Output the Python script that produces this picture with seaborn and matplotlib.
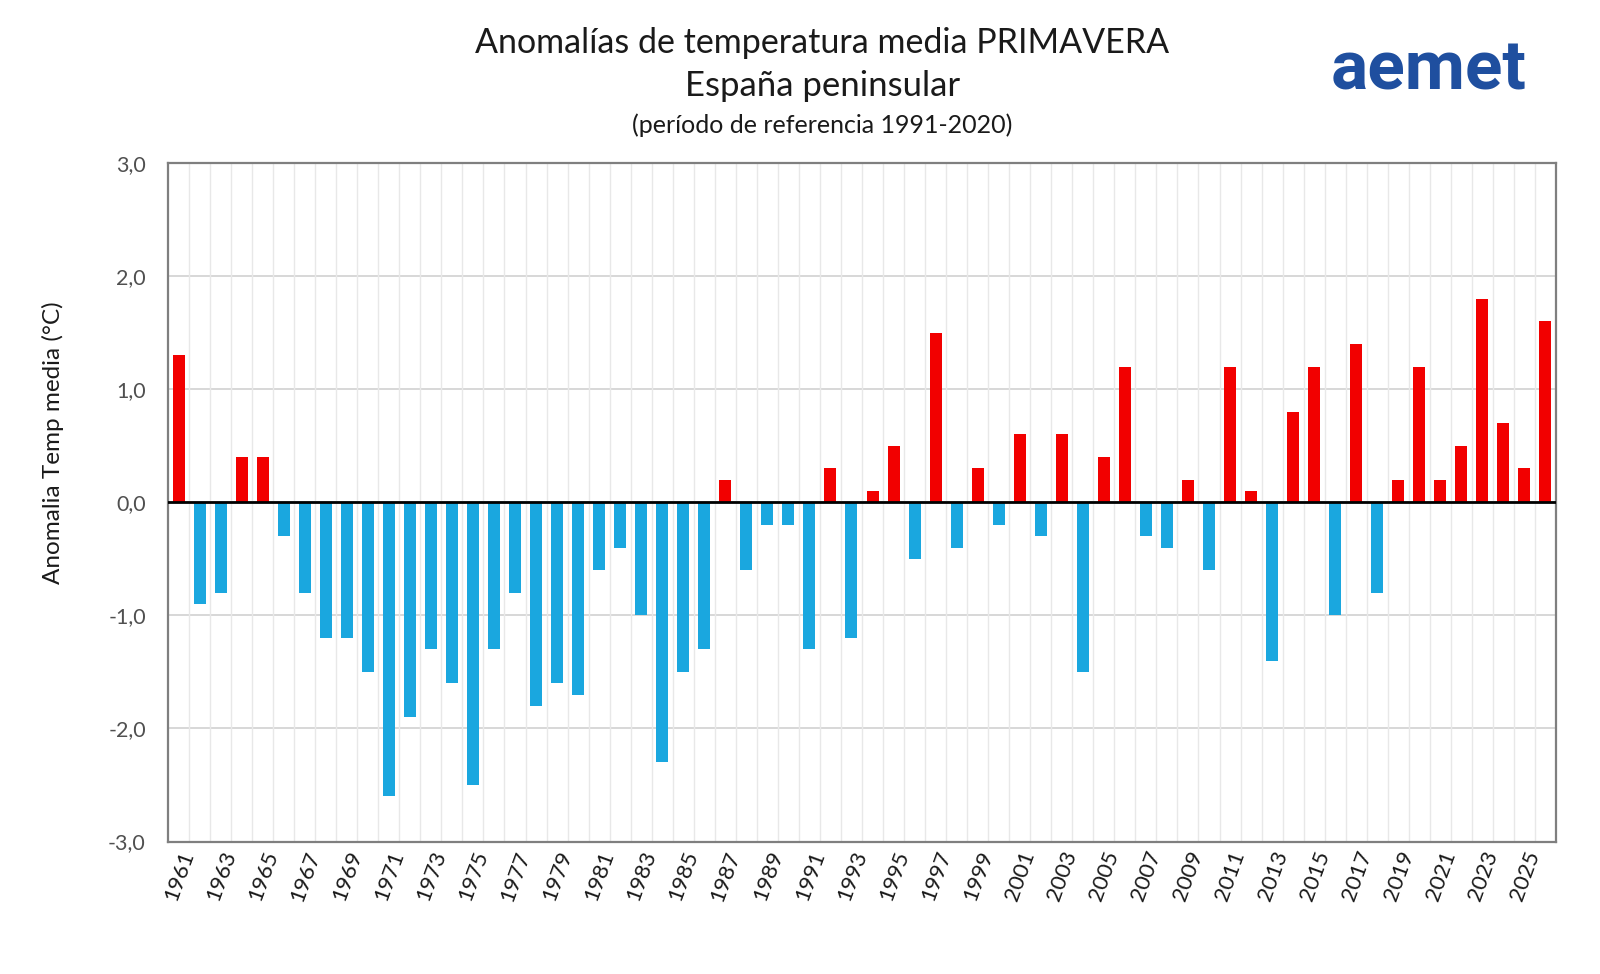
import matplotlib
matplotlib.use("Agg")
import matplotlib.pyplot as plt
import numpy as np
import pandas as pd
import seaborn as sns

# Anomalías de temperatura media de primavera, España peninsular
years = list(range(1961, 2027))
anomalies = [
    1.3, -0.9, -0.8, 0.4, 0.4, -0.3, -0.8, -1.2, -1.2, -1.5,   # 1961-1970
    -2.6, -1.9, -1.3, -1.6, -2.5, -1.3, -0.8, -1.8, -1.6, -1.7,  # 1971-1980
    -0.6, -0.4, -1.0, -2.3, -1.5, -1.3, 0.2, -0.6, -0.2, -0.2,   # 1981-1990
    -1.3, 0.3, -1.2, 0.1, 0.5, -0.5, 1.5, -0.4, 0.3, -0.2,       # 1991-2000
    0.6, -0.3, 0.6, -1.5, 0.4, 1.2, -0.3, -0.4, 0.2, -0.6,       # 2001-2010
    1.2, 0.1, -1.4, 0.8, 1.2, -1.0, 1.4, -0.8, 0.2, 1.2,         # 2011-2020
    0.2, 0.5, 1.8, 0.7, 0.3, 1.6,                                # 2021-2026
]
y_ticks = [-3, -2, -1, 0, 1, 2, 3]
y_tick_labels = ["-3,0", "-2,0", "-1,0", "0,0", "1,0", "2,0", "3,0"]

RED = "#f20000"
BLUE = "#1aa7df"
FONT = ["Lato", "DejaVu Sans"]


def plot_anomalies():
    df = pd.DataFrame({"year": years, "anomaly": anomalies})
    df["sign"] = np.where(df.anomaly >= 0, "pos", "neg")

    plt.rcParams["font.family"] = FONT
    fig = plt.figure(figsize=(16, 9.74), dpi=100)
    ax = fig.add_axes([0.105, 0.136, 0.8675, 0.6966])

    sns.barplot(data=df, x="year", y="anomaly", hue="sign",
                palette={"pos": RED, "neg": BLUE}, dodge=False,
                width=0.57, legend=False, saturation=1, ax=ax, zorder=3)

    n = len(years)
    ax.set_xlim(-0.5, n - 0.5)
    ax.set_ylim(-3, 3)

    # light vertical separators between years
    for i in range(n - 1):
        ax.axvline(i + 0.5, color="#e8e8e8", lw=1.0, zorder=1)
    ax.set_yticks(y_ticks)
    ax.set_yticklabels(y_tick_labels, fontsize=15.5, color="#505050")
    ax.yaxis.grid(True, color="#d4d4d4", lw=1.3, zorder=1)
    ax.set_axisbelow(True)
    ax.axhline(0, color="black", lw=2, zorder=4)

    ax.set_xticks(range(0, n, 2))
    ax.set_xticklabels([str(y) for y in years[::2]], rotation=70,
                       ha="right", rotation_mode="anchor", fontsize=16,
                       color="#1a1a1a")
    ax.tick_params(axis="y", length=0, pad=16)
    ax.tick_params(axis="x", length=0, pad=5)
    ax.set_xlabel("")
    ax.set_ylabel("")

    for side in ["top", "right", "bottom", "left"]:
        ax.spines[side].set_color("#7f7f7f")
        ax.spines[side].set_linewidth(1.6)

    fig.text(0.033, 0.546, "Anomalia Temp media (°C)", rotation=90,
             ha="center", va="center", fontsize=17.5, color="#1a1a1a")

    fig.text(0.514, 0.956, "Anomalías de temperatura media PRIMAVERA",
             ha="center", va="center", fontsize=24.5, color="#1a1a1a")
    fig.text(0.514, 0.912, "España peninsular",
             ha="center", va="center", fontsize=25, color="#1a1a1a")
    fig.text(0.514, 0.871, "(período de referencia 1991-2020)",
             ha="center", va="center", fontsize=18, color="#1a1a1a")

    fig.text(0.893, 0.927, "aemet", ha="center", va="center",
             fontsize=50, fontweight="bold", color="#1f4f9f",
             family=["Roboto", "DejaVu Sans"])

    fig.savefig("out.png", dpi=100, facecolor="white")


if __name__ == "__main__":
    plot_anomalies()
